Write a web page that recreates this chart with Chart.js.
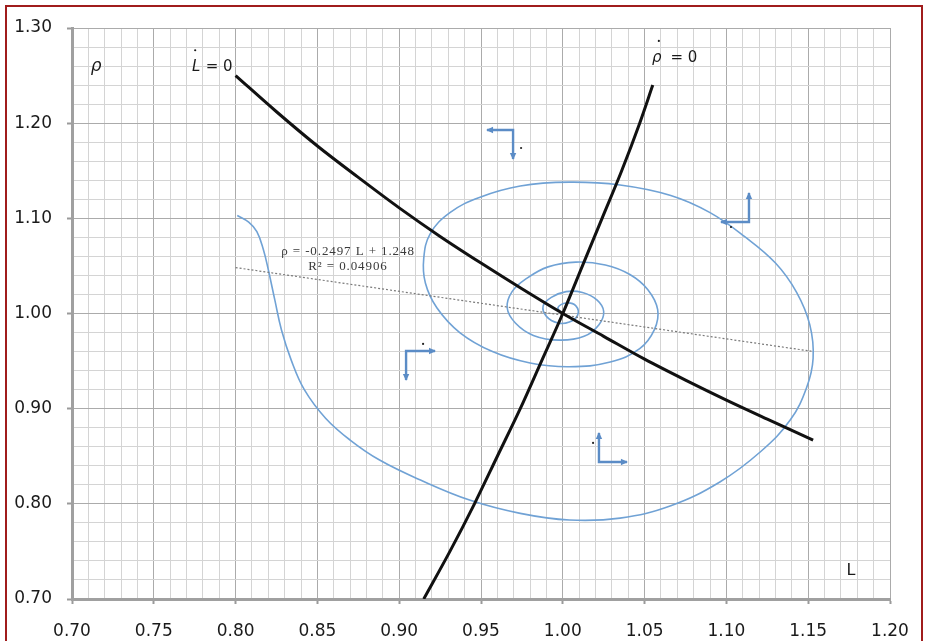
<!DOCTYPE html>
<html>
<head>
<meta charset="utf-8">
<script src="https://cdn.jsdelivr.net/npm/chart.js@4/dist/chart.umd.min.js"></script>
<style>
  html, body { margin: 0; padding: 0; background: #fff; }
  #wrap { position: relative; width: 928px; height: 641px; overflow: hidden; background: #fff; }
  #wrap canvas { position: absolute; left: 0; top: 0; }
  #frame { position: absolute; left: 5px; top: 5px; width: 914px; height: 700px;
           border: 2px solid #a01c1c; border-bottom: none; pointer-events: none; }
</style>
</head>
<body>
<div id="wrap">
  <canvas id="phase" width="928" height="641"></canvas>
  <div id="frame"></div>
</div>
<script>
// Phase diagram: L (x) against rho (y), nullclines, a spiral trajectory and its linear fit.

// Tick labels
const xTickLabels = ['0.70','0.75','0.80','0.85','0.90','0.95','1.00','1.05','1.10','1.15','1.20'];
const yTickLabels = ['0.70','0.80','0.90','1.00','1.10','1.20','1.30'];

// L-dot = 0 nullcline
const lNullL   = [0.800, 0.825, 0.850, 0.875, 0.900, 0.925, 0.950, 0.975, 1.000, 1.025, 1.050, 1.075, 1.100, 1.125, 1.153];
const lNullRho = [1.250, 1.212, 1.176, 1.143, 1.111, 1.081, 1.053, 1.026, 1.000, 0.976, 0.952, 0.930, 0.909, 0.889, 0.867];

// rho-dot = 0 nullcline
const rNullL   = [0.915, 0.931, 0.946, 0.960, 0.974, 0.987, 1.000, 1.012, 1.024, 1.036, 1.047, 1.055];
const rNullRho = [0.700, 0.750, 0.800, 0.850, 0.900, 0.950, 1.000, 1.050, 1.100, 1.150, 1.200, 1.240];

// Trajectory spiralling in towards (1, 1)
const pathL = [
  0.801, 0.808, 0.813, 0.817, 0.820, 0.824, 0.828, 0.834, 0.842, 0.855, 0.870, 0.888,
  0.913, 0.943, 0.974, 1.004, 1.035, 1.066, 1.096, 1.121, 1.139, 1.149, 1.153, 1.151,
  1.143, 1.130, 1.111, 1.090, 1.066, 1.035, 1.004, 0.974, 0.949, 0.931, 0.919, 0.915,
  0.916, 0.923, 0.937, 0.957, 0.980, 1.004, 1.029, 1.047, 1.056, 1.058, 1.052, 1.041,
  1.026, 1.008, 0.991, 0.978, 0.969, 0.966, 0.971, 0.982, 0.998, 1.013, 1.022, 1.025,
  1.021, 1.012, 1.002, 0.993, 0.988, 0.990, 0.997, 1.004, 1.009, 1.008, 1.002, 0.997, 1.000
];
const pathRho = [
  1.103, 1.096, 1.086, 1.067, 1.046, 1.014, 0.983, 0.951, 0.920, 0.890, 0.867, 0.846,
  0.825, 0.804, 0.790, 0.783, 0.785, 0.798, 0.823, 0.855, 0.888, 0.922, 0.953, 0.988,
  1.022, 1.053, 1.081, 1.106, 1.124, 1.135, 1.138, 1.134, 1.122, 1.106, 1.084, 1.058,
  1.032, 1.006, 0.980, 0.960, 0.948, 0.944, 0.949, 0.963, 0.983, 1.004, 1.025, 1.041,
  1.051, 1.054, 1.049, 1.037, 1.023, 1.006, 0.990, 0.977, 0.972, 0.976, 0.988, 1.002,
  1.014, 1.022, 1.023, 1.017, 1.008, 0.997, 0.990, 0.991, 0.998, 1.008, 1.011, 1.006, 1.000
];

// Linear fit of the trajectory, as printed on the chart
const fitSlope = -0.2497;
const fitIntercept = 1.248;
const fitL = [0.800, 1.153];

const toPoints = (xs, ys) => xs.map((x, i) => ({ x: x, y: ys[i] }));
const fitPoints = fitL.map(x => ({ x: x, y: fitSlope * x + fitIntercept }));

// Direction arrows (corner, end of horizontal arm, end of vertical arm, marker dot)
const arrows = [
  { cx: 0.9042, cy: 0.9606, hx: 0.9219, vy: 0.9301, dx: 0.9146, dy: 0.9680 },
  { cx: 0.9696, cy: 1.1928, hx: 0.9537, vy: 1.1624, dx: 0.9745, dy: 1.1739 },
  { cx: 1.1138, cy: 1.0962, hx: 1.0967, vy: 1.1266, dx: 1.1028, dy: 1.0909 },
  { cx: 1.0221, cy: 0.8440, hx: 1.0392, vy: 0.8745, dx: 1.0185, dy: 0.8640 }
];

const TICK_FONT = { family: 'DejaVu Sans', size: 17 };

const annotate = {
  id: 'annotate',
  afterDatasetsDraw(chart) {
    const ctx = chart.ctx;
    const xs = chart.scales.x, ys = chart.scales.y;
    const px = v => xs.getPixelForValue(v);
    const py = v => ys.getPixelForValue(v);
    ctx.save();

    // axis-variable labels
    ctx.fillStyle = '#1a1a1a';
    ctx.textBaseline = 'middle';
    ctx.textAlign = 'center';
    ctx.font = 'italic 17px "DejaVu Sans"';
    ctx.fillText('ρ', px(0.7147), py(1.259));
    ctx.font = '16px "DejaVu Sans"';
    ctx.fillText('L', px(1.1762), py(0.7294));

    // nullcline labels
    ctx.font = 'italic 15px "DejaVu Sans"';
    ctx.textAlign = 'left';
    ctx.fillText('L', px(0.7733), py(1.259));
    ctx.font = '15px "DejaVu Sans"';
    ctx.fillText(' = 0', px(0.7733) + 9, py(1.259));
    ctx.font = 'italic 15px "DejaVu Sans"';
    ctx.fillText('ρ', px(1.0545), py(1.2685));
    ctx.font = '15px "DejaVu Sans"';
    ctx.fillText('  = 0', px(1.0545) + 9, py(1.2685));
    // time-derivative dots
    ctx.beginPath();
    ctx.arc(px(0.7753), py(1.2766), 1.1, 0, Math.PI * 2);
    ctx.arc(px(1.0587), py(1.2864), 1.1, 0, Math.PI * 2);
    ctx.fill();

    // regression equation
    ctx.fillStyle = '#3a3a3a';
    ctx.textAlign = 'center';
    ctx.font = '13px "Liberation Serif"';
    if ('letterSpacing' in ctx) ctx.letterSpacing = '0.9px';
    ctx.fillText('ρ = -0.2497 L + 1.248', px(0.8687), py(1.0646));
    ctx.fillText('R² = 0.04906', px(0.8687), py(1.0489));
    if ('letterSpacing' in ctx) ctx.letterSpacing = '0px';

    // direction arrows
    const head = (x0, y0, x1, y1) => {
      const a = Math.atan2(y1 - y0, x1 - x0), len = 6, w = 3.2;
      ctx.beginPath();
      ctx.moveTo(x1 + Math.cos(a) * 1, y1 + Math.sin(a) * 1);
      ctx.lineTo(x1 - Math.cos(a) * len - Math.sin(a) * w, y1 - Math.sin(a) * len + Math.cos(a) * w);
      ctx.lineTo(x1 - Math.cos(a) * len + Math.sin(a) * w, y1 - Math.sin(a) * len - Math.cos(a) * w);
      ctx.closePath();
      ctx.fill();
    };
    ctx.strokeStyle = '#5b8cc6';
    ctx.fillStyle = '#5b8cc6';
    ctx.lineWidth = 2.4;
    ctx.lineCap = 'butt';
    arrows.forEach(a => {
      const cx = px(a.cx), cy = py(a.cy), hx = px(a.hx), vy = py(a.vy);
      ctx.beginPath();
      ctx.moveTo(hx, cy);
      ctx.lineTo(cx, cy);
      ctx.lineTo(cx, vy);
      ctx.stroke();
      head(cx, cy, hx, cy);
      head(cx, cy, cx, vy);
    });
    ctx.fillStyle = '#222';
    arrows.forEach(a => {
      ctx.beginPath();
      ctx.arc(px(a.dx), py(a.dy), 1.1, 0, Math.PI * 2);
      ctx.fill();
    });
    ctx.restore();
  }
};

const isMajorX = v => Math.round(v * 100) % 5 === 0;
const isMajorY = v => Math.round(v * 100) % 10 === 0;

new Chart(document.getElementById('phase'), {
  type: 'scatter',
  data: {
    datasets: [
      { label: 'L-dot = 0', data: toPoints(lNullL, lNullRho), showLine: true,
        borderColor: '#111', borderWidth: 3, pointRadius: 0, cubicInterpolationMode: 'monotone' },
      { label: 'rho-dot = 0', data: toPoints(rNullL, rNullRho), showLine: true,
        borderColor: '#111', borderWidth: 3, pointRadius: 0, cubicInterpolationMode: 'monotone' },
      { label: 'Linear fit', data: fitPoints, showLine: true,
        borderColor: '#7a7a7a', borderWidth: 1.2, borderDash: [2, 2], pointRadius: 0 },
      { label: 'Trajectory', data: toPoints(pathL, pathRho), showLine: true,
        borderColor: '#70a2d5', borderWidth: 1.6, pointRadius: 0, tension: 0.4 }
    ]
  },
  options: {
    responsive: false,
    animation: false,
    devicePixelRatio: 1,
    layout: { padding: { left: 0, top: 28, right: 38, bottom: 0 } },
    plugins: { legend: { display: false }, tooltip: { enabled: false } },
    scales: {
      x: {
        type: 'linear', min: 0.70, max: 1.20,
        afterBuildTicks: s => { const t = []; for (let k = 70; k <= 120; k++) t.push({ value: k / 100 }); s.ticks = t; },
        afterFit: s => { s.height = 42; },
        ticks: {
          autoSkip: false, maxRotation: 0, minRotation: 0, padding: 17,
          color: '#1a1a1a', font: TICK_FONT,
          callback: v => isMajorX(v) ? xTickLabels[Math.round((v * 100 - 70) / 5)] : ''
        },
        grid: {
          color: c => (c.tick && isMajorX(c.tick.value)) ? '#ababab' : '#d4d4d4',
          tickColor: c => (c.tick && isMajorX(c.tick.value)) ? '#9a9a9a' : 'rgba(0,0,0,0)',
          tickLength: 5, lineWidth: 1, tickWidth: 2
        },
        border: { color: '#a0a0a0', width: 3 }
      },
      y: {
        type: 'linear', min: 0.70, max: 1.30,
        afterBuildTicks: s => { const t = []; for (let k = 70; k <= 130; k += 2) t.push({ value: k / 100 }); s.ticks = t; },
        afterFit: s => { s.width = 72; },
        ticks: {
          autoSkip: false, padding: 15,
          color: '#1a1a1a', font: TICK_FONT,
          callback: v => isMajorY(v) ? yTickLabels[Math.round((v * 100 - 70) / 10)] : ''
        },
        grid: {
          color: c => (c.tick && isMajorY(c.tick.value)) ? '#ababab' : '#d4d4d4',
          tickColor: c => (c.tick && isMajorY(c.tick.value)) ? '#9a9a9a' : 'rgba(0,0,0,0)',
          tickLength: 5, lineWidth: 1, tickWidth: 2
        },
        border: { color: '#a0a0a0', width: 3 }
      }
    }
  },
  plugins: [annotate]
});
</script>
</body>
</html>
